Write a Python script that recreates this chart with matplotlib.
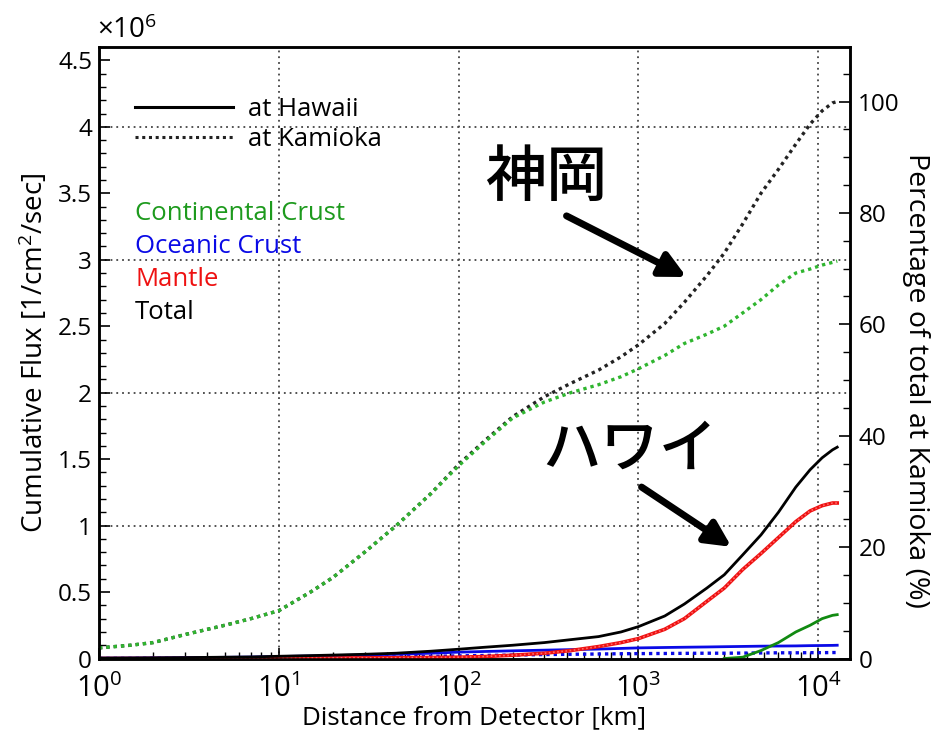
import numpy as np
import matplotlib
matplotlib.use("Agg")
import matplotlib.pyplot as plt
from matplotlib.lines import Line2D
from matplotlib.ticker import MultipleLocator, FixedLocator, LogLocator, NullFormatter, FuncFormatter, LogFormatterMathtext

plt.rcParams["font.family"] = ["Open Sans", "DejaVu Sans"]
plt.rcParams["mathtext.fontset"] = "custom"
plt.rcParams["mathtext.rm"] = "Open Sans"
plt.rcParams["mathtext.it"] = "Open Sans:italic"
plt.rcParams["mathtext.bf"] = "Open Sans:bold"

# Distance from the detector (km)
distance_km = [1, 1.5, 2, 3, 5, 7, 10, 15, 20, 30, 45, 70, 100, 140, 200, 300, 420,
               600, 800, 1000, 1400, 1800, 2400, 3000, 3800, 4800, 6000, 7500, 9000,
               10500, 12000, 12742]

# Cumulative flux (x10^6 /cm^2/sec) at Kamioka
kamioka_continental = [0.08, 0.10, 0.12, 0.18, 0.25, 0.30, 0.36, 0.50, 0.61, 0.80, 1.00, 1.24,
                       1.45, 1.63, 1.81, 1.93, 2.00, 2.06, 2.12, 2.18, 2.28, 2.37, 2.44, 2.50,
                       2.60, 2.70, 2.81, 2.90, 2.93, 2.96, 2.98, 2.99]
kamioka_oceanic = [0.001, 0.001, 0.002, 0.002, 0.003, 0.004, 0.005, 0.007, 0.008, 0.010, 0.012,
                   0.016, 0.020, 0.023, 0.026, 0.030, 0.032, 0.034, 0.036, 0.037, 0.038, 0.039,
                   0.040, 0.040, 0.041, 0.042, 0.043, 0.043, 0.044, 0.044, 0.045, 0.045]
kamioka_total = [0.08, 0.10, 0.12, 0.18, 0.25, 0.30, 0.36, 0.50, 0.61, 0.80, 1.00, 1.24,
                 1.46, 1.64, 1.82, 1.97, 2.07, 2.17, 2.27, 2.36, 2.52, 2.68, 2.88, 3.05,
                 3.27, 3.50, 3.68, 3.87, 4.02, 4.12, 4.18, 4.19]

# Mantle contribution (same at both sites)
mantle = [0.0, 0.0, 0.0, 0.0, 0.0, 0.001, 0.002, 0.003, 0.004, 0.005, 0.006, 0.008, 0.010,
          0.015, 0.025, 0.040, 0.060, 0.090, 0.120, 0.150, 0.220, 0.300, 0.430, 0.530,
          0.670, 0.790, 0.910, 1.030, 1.110, 1.150, 1.170, 1.170]

# Cumulative flux at Hawaii
hawaii_continental = [np.nan] * 23 + [0.0, 0.01, 0.06, 0.12, 0.20, 0.25, 0.30, 0.325, 0.33]
hawaii_oceanic = [0.003, 0.004, 0.005, 0.007, 0.009, 0.011, 0.015, 0.019, 0.022, 0.027, 0.032,
                  0.040, 0.048, 0.053, 0.058, 0.063, 0.067, 0.071, 0.076, 0.080, 0.083, 0.085,
                  0.087, 0.089, 0.091, 0.093, 0.094, 0.095, 0.097, 0.098, 0.099, 0.100]
hawaii_total = [0.003, 0.004, 0.005, 0.007, 0.010, 0.012, 0.017, 0.022, 0.026, 0.032, 0.040,
                0.055, 0.070, 0.085, 0.100, 0.120, 0.142, 0.165, 0.200, 0.240, 0.320, 0.410,
                0.530, 0.630, 0.780, 0.930, 1.100, 1.290, 1.420, 1.510, 1.570, 1.590]

y_ticks = [0, 0.5, 1, 1.5, 2, 2.5, 3, 3.5, 4, 4.5]
y_grid = [1, 2, 3, 4]
pct_ticks = [0, 20, 40, 60, 80, 100]

C_GREEN_DOT = "#2fb52f"
C_GREEN = "#118a11"
C_BLUE = "#0a0ae6"
C_RED = "#ee1111"

TICK_FS = 17.5
TEXT_FS = 18.5

fig = plt.figure(figsize=(9.33, 7.33), dpi=100)
ax = fig.add_axes([0.1061, 0.1016, 0.8049, 0.8342])

ax.set_xscale("log")
ax.set_xlim(1, 1.5e4)
ax.set_ylim(0, 4.6)

dot = (0, (1, 1.2))
solid_lw = 2.0
dot_lw = 2.4

# grid
ax.xaxis.grid(True, which="major", color="#444444", linestyle=(0, (1, 2.2)), linewidth=1.3)
for g in y_grid:
    ax.axhline(g, color="#444444", linestyle=(0, (1, 2.2)), linewidth=1.3, zorder=0.5)

x = np.array(distance_km)
ax.plot(x, hawaii_oceanic, color=C_BLUE, lw=solid_lw, zorder=3)
ax.plot(x, kamioka_oceanic, color=C_BLUE, lw=dot_lw, ls=dot, zorder=3)
ax.plot(x, hawaii_continental, color=C_GREEN, lw=solid_lw, zorder=3)
ax.plot(x, mantle, color=C_RED, lw=solid_lw + 0.6, zorder=3)
ax.plot(x, mantle, color="#ff6666", lw=1.2, ls=(0, (1, 1.5)), zorder=3.1)
ax.plot(x, hawaii_total, color="black", lw=solid_lw, zorder=4)
ax.plot(x, kamioka_total, color="#222222", lw=dot_lw, ls=dot, zorder=3)
ax.plot(x, kamioka_continental, color=C_GREEN_DOT, lw=dot_lw, ls=dot, zorder=3.5)

# axes styling
for s in ax.spines.values():
    s.set_linewidth(1.8)
ax.yaxis.set_major_locator(FixedLocator(y_ticks))
ax.yaxis.set_minor_locator(MultipleLocator(0.1))
ax.yaxis.set_major_formatter(FuncFormatter(lambda v, p: "%g" % v))
ax.xaxis.set_major_locator(LogLocator(base=10, numticks=10))
ax.xaxis.set_minor_locator(LogLocator(base=10, subs=np.arange(2, 10), numticks=20))
ax.xaxis.set_minor_formatter(NullFormatter())
ax.xaxis.set_major_formatter(LogFormatterMathtext())
ax.tick_params(axis="both", which="major", direction="in", length=8, width=1.2,
               labelsize=TICK_FS, top=False, right=False)
ax.tick_params(axis="both", which="minor", direction="in", length=5, width=1.0,
               top=False, right=False)
ax.tick_params(axis="x", which="major", pad=11, labelsize=21)
ax.tick_params(axis="y", which="major", pad=5)

ax.set_xlabel("Distance from Detector [km]", fontsize=18.7, labelpad=1)
ax.set_ylabel("Cumulative Flux [1/cm$^2$/sec]", fontsize=20, labelpad=6)
ax.text(-0.003, 1.003, "×10$^{6}$", transform=ax.transAxes, ha="left", va="bottom", fontsize=20)

# right axis as percentage of Kamioka total
ax2 = ax.twinx()
ax2.set_ylim(0, 4.6 / kamioka_total[-1] * 100)
ax2.yaxis.set_major_locator(FixedLocator(pct_ticks))
ax2.yaxis.set_minor_locator(MultipleLocator(5))
ax2.tick_params(axis="y", which="major", direction="in", length=8, width=1.2,
                labelsize=TICK_FS, pad=6)
ax2.tick_params(axis="y", which="minor", direction="in", length=5, width=1.0)
for s in ax2.spines.values():
    s.set_linewidth(1.8)
ax2.set_ylabel("Percentage of total at Kamioka (%)", fontsize=20.5, rotation=270, labelpad=22)
ax2.yaxis.label.set_y(0.455)

# site legend
handles = [Line2D([], [], color="black", lw=2.2),
           Line2D([], [], color="#222222", lw=2.2, ls=(0, (1, 1.2)))]
ax.legend(handles, ["at Hawaii", "at Kamioka"], loc="upper left",
          bbox_to_anchor=(0.048, 0.918), frameon=False, fontsize=TEXT_FS,
          handlelength=3.8, handletextpad=0.58, borderpad=0, borderaxespad=0,
          labelspacing=0.2)

# component colour key
key = [("Continental Crust", "#1d9a1d"), ("Oceanic Crust", C_BLUE),
       ("Mantle", C_RED), ("Total", "black")]
for i, (label, col) in enumerate(key):
    ax.text(0.048, 0.7285 - i * 0.0540, label, color=col, fontsize=TEXT_FS,
            transform=ax.transAxes, ha="left", va="center")

# site annotations
jp = ["Noto Sans CJK JP", "DejaVu Sans"]
arrow = dict(arrowstyle="-|>", lw=5, color="black", mutation_scale=38, shrinkA=0, shrinkB=0)
ax.text(308, 3.61, "神岡", fontsize=44, family=jp, weight="medium",
        ha="center", va="center", zorder=6)
ax.annotate("", xy=(1850, 2.87), xytext=(398, 3.33), arrowprops=arrow, zorder=6)
ax.text(890, 1.57, "ハワイ", fontsize=42, family=jp, weight="medium",
        ha="center", va="center", zorder=6)
ax.annotate("", xy=(3290, 0.84), xytext=(1040, 1.29), arrowprops=arrow, zorder=6)

fig.savefig("out.png", dpi=100)
